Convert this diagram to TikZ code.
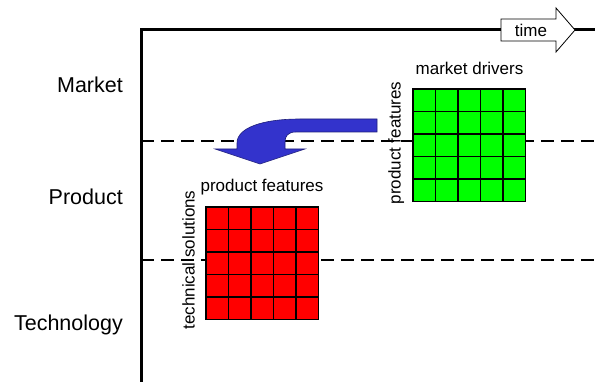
\documentclass[tikz,border=0pt]{standalone}
\usepackage{fontspec}
\setmainfont{Liberation Sans}
\usetikzlibrary{calc}
\definecolor{drivergreen}{RGB}{0,255,0}
\definecolor{featurered}{RGB}{255,0,0}
\definecolor{flowblue}{RGB}{51,51,204}
\tikzset{
  axisline/.style={line width=3pt},
  stageline/.style={line width=1.8pt, dash pattern=on 13pt off 7pt},
  rowlabel/.style={anchor=base east, inner sep=0pt, font=\fontsize{21.5}{24}\selectfont},
  gridlabel/.style={inner sep=0pt, font=\fontsize{17}{20}\selectfont},
  cellline/.style={line width=1.5pt},
}
% 5x5 block of cells, top left corner at (#1,#2)
\def\featgrid(#1,#2)#3{%
  \draw[cellline, fill=#3] (#1,#2) rectangle ++(112.5,112.5);
  \foreach \k in {1,...,4}{%
    \draw[cellline] ({#1+22.5*\k},#2) -- ++(0,112.5);
    \draw[cellline] (#1,{#2+22.5*\k}) -- ++(112.5,0);
  }}

\begin{document}
\begin{tikzpicture}[x=1pt,y=-1pt]
	\useasboundingbox (0,0) rectangle (595,382);
	
	% stage boundaries
	\draw[stageline] (141,141) -- (595,141);
	\draw[stageline] (141,260) -- (595,260);
	
	% axes
	\draw[axisline] (141,382) -- (141,30) -- (595,30);
	\draw[fill=white, line width=0.8pt] (501,19) -- (556,19) -- (556,8) -- (575,30) -- (556,52) -- (556,41) -- (501,41) -- cycle;
	\node[gridlabel] (time) at (531,30) {time};
	
	\node[rowlabel] (market) at (123,93) {Market};
	\node[rowlabel] (product) at (123,205) {Product};
	\node[rowlabel] (technology) at (123,331) {Technology};
	
	% market drivers -> product features
	\featgrid(413,89){drivergreen}
	\node[gridlabel, anchor=base] (drivers) at (469.5,75) {market drivers};
	\node[gridlabel, rotate=90, anchor=base] (mfeatures) at (400.5,143) {product features};
	
	% product features -> technical solutions
	\featgrid(206,207){featurered}
	\node[gridlabel, anchor=base] (pfeatures) at (262,192) {product features};
	\node[gridlabel, rotate=90, anchor=base] (solutions) at (194.5,260) {technical solutions};
	
	% flow from the market block down to the product block
	\draw[fill=flowblue, draw=flowblue!60!black, line width=0.6pt] (377,119) -- (300,119) .. controls (262,119) and (237,128) .. (237,143) -- (237,149) -- (215,149) -- (260,164) -- (305,149) -- (285,149) -- (285,142) .. controls (285,136) and (288,132) .. (296,132) -- (377,132) -- cycle;
\end{tikzpicture}
\end{document}
